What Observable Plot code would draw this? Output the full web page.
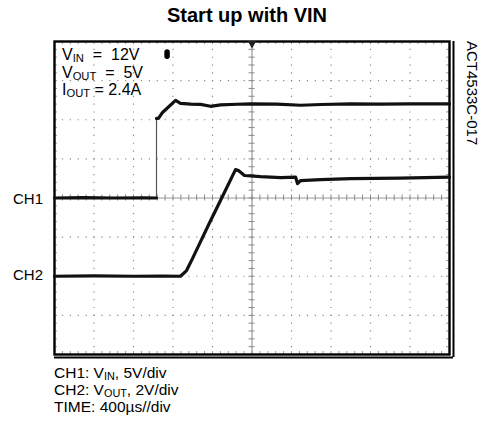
<!DOCTYPE html>
<html>
<head>
<meta charset="utf-8">
<script src="https://cdn.jsdelivr.net/npm/d3@7"></script>
<script src="https://cdn.jsdelivr.net/npm/@observablehq/plot@0.6"></script>
<style>
  html, body { margin: 0; padding: 0; background: #fff; }
  #wrap { position: relative; width: 482px; height: 423px; font-family: Arial, "Liberation Sans", sans-serif; color: #000; }
  #wrap svg { position: absolute; left: 0; top: 0; }
  .t { position: absolute; white-space: pre; line-height: 1; }
  sub { font-size: 0.7em; vertical-align: -0.14em; line-height: 0; }
</style>
</head>
<body>
<div id="wrap"></div>
<script>
// ---- data ----
// time axis: 400 µs/div, 10 divisions (0..4000 µs)
const timeDivisions = [0, 400, 800, 1200, 1600, 2000, 2400, 2800, 3200, 3600, 4000];
// vertical axis: 8 divisions, CH1 ground at 0 div, CH2 ground at -2 div
const voltDivisions = [-4, -3, -2, -1, 0, 1, 2, 3, 4];
const ch1Scale = 5;   // V/div
const ch2Scale = 2;   // V/div
const ch1Ground = 0;  // div
const ch2Ground = -2; // div

// CH1: VIN (V) vs time (µs)
const ch1Time = [0, 300, 600, 900, 1033, 1033, 1053, 1094, 1226, 1276, 1380, 1479, 1580, 1682, 1850, 1985, 2250, 2492, 2700, 2998, 3300, 3600, 4000];
const ch1Volt = [0, 0.05, 0, 0.03, 0, 10.17, 10.17, 10.93, 12.47, 12.09, 12.0, 11.96, 11.72, 11.89, 11.98, 12.02, 12.0, 11.85, 11.95, 12.02, 12.0, 12.02, 12.02];

// CH2: VOUT (V) vs time (µs)
const ch2Time = [0, 400, 800, 1100, 1276, 1337, 1397, 1479, 1580, 1681, 1833, 1863, 1924, 2086, 2289, 2441, 2461, 2491, 2694, 2998, 3504, 4000];
const ch2Volt = [0, 0.02, 0, 0.01, 0, 0.29, 0.90, 1.77, 2.84, 3.87, 5.45, 5.40, 5.15, 5.09, 5.04, 5.07, 4.74, 4.89, 4.94, 4.99, 5.02, 5.07];

const triggerTime = 1140; // trigger position marker (µs)

// ---- build tables ----
function rows(times, volts, scale, ground) {
  let seg = 0;
  return times.map((t, i) => {
    if (i > 0 && times[i - 1] === t) seg++;
    return {t, v: volts[i], y: volts[i] / scale + ground, seg};
  });
}
const ch1 = rows(ch1Time, ch1Volt, ch1Scale, ch1Ground);
const ch2 = rows(ch2Time, ch2Volt, ch2Scale, ch2Ground);
const jumps = [];
for (let i = 1; i < ch1.length; i++) if (ch1[i].t === ch1[i - 1].t) jumps.push({t: ch1[i].t, y1: ch1[i - 1].y, y2: ch1[i].y});

const xMinor = d3.range(timeDivisions[0], timeDivisions[timeDivisions.length - 1] + 1, 80);
const yMinor = d3.range(-4, 4.001, 0.2).map(d => Math.round(d * 10) / 10);
const innerX = timeDivisions.filter(d => d !== 0 && d !== 2000 && d !== 4000);
const innerY = voltDivisions.filter(d => d !== -4 && d !== 0 && d !== 4);
const hx = 30;     // half tick length in µs (≈3 px)
const hy = 0.077;  // half tick length in div (≈3 px)

const plot = Plot.plot({
  width: 482,
  height: 423,
  marginTop: 41,
  marginLeft: 54,
  marginRight: 33,
  marginBottom: 69,
  x: {domain: [0, 4000], axis: null},
  y: {domain: [-4, 4], axis: null},
  style: {background: "transparent"},
  marks: [
    // dotted division grid
    Plot.ruleX(innerX, {stroke: "#8a8a8a", strokeWidth: 1.2, strokeDasharray: "1.2 6.62"}),
    Plot.ruleY(innerY, {stroke: "#8a8a8a", strokeWidth: 1.2, strokeDasharray: "1.2 6.7"}),
    // centre cross lines
    Plot.ruleX([2000], {stroke: "#999", strokeWidth: 1.2}),
    Plot.ruleY([0], {stroke: "#999", strokeWidth: 1.2}),
    // minor ticks on centre lines
    Plot.ruleY(yMinor, {x1: 2000 - hx, x2: 2000 + hx, stroke: "#888"}),
    Plot.ruleX(xMinor, {y1: -hy, y2: hy, stroke: "#888"}),
    // minor ticks on frame edges
    Plot.ruleY(yMinor, {x1: 0, x2: hx, stroke: "#999"}),
    Plot.ruleY(yMinor, {x1: 4000 - hx, x2: 4000, stroke: "#999"}),
    Plot.ruleX(xMinor, {y1: 4 - hy, y2: 4, stroke: "#999"}),
    Plot.ruleX(xMinor, {y1: -4, y2: -4 + hy, stroke: "#999"}),
    // frame + shadow edges
    Plot.frame({stroke: "#000", strokeWidth: 2.4}),
    Plot.ruleX([4000], {stroke: "#000", strokeWidth: 2, dx: 4, y1: 4, y2: -4, insetBottom: -3}),
    Plot.ruleY([-4], {stroke: "#000", strokeWidth: 2, dy: 3, x1: 0, x2: 4000, insetRight: -4}),
    // centre & trigger markers
    Plot.dot([2000], {x: d => d, frameAnchor: "top", symbol: "triangle", rotate: 180, r: 3.2, fill: "#222", stroke: "none", dy: 2}),
    Plot.ruleX([triggerTime], {y1: 3.72, y2: 3.61, stroke: "#000", strokeWidth: 5.5, strokeLinecap: "round"}),
    // waveforms
    Plot.link(jumps, {x1: "t", x2: "t", y1: "y1", y2: "y2", stroke: "#555", strokeWidth: 1.2}),
    Plot.line(ch1, {x: "t", y: "y", z: "seg", stroke: "#111", strokeWidth: 3.2, strokeLinejoin: "round"}),
    Plot.line(ch2, {x: "t", y: "y", stroke: "#111", strokeWidth: 3.2, strokeLinejoin: "round"})
  ]
});

const wrap = document.getElementById("wrap");
wrap.appendChild(plot);

function addText(html, css) {
  const d = document.createElement("div");
  d.className = "t";
  d.innerHTML = html;
  Object.assign(d.style, css);
  wrap.appendChild(d);
  return d;
}
// title
addText("Start up with VIN", {left: "0px", width: "494px", textAlign: "center", top: "5px", fontSize: "20px", fontWeight: "bold"});
// in-plot annotation
addText("V<sub>IN</sub>  =  12V", {left: "62px", top: "46.5px", fontSize: "16px"});
addText("V<sub>OUT</sub>  =  5V", {left: "62px", top: "64.5px", fontSize: "16px"});
addText("I<sub>OUT</sub> = 2.4A", {left: "62px", top: "82px", fontSize: "16px"});
// channel labels
addText("CH1", {left: "13px", top: "190.5px", fontSize: "15px"});
addText("CH2", {left: "13px", top: "267px", fontSize: "15px"});
// caption
addText("CH1: V<sub>IN</sub>, 5V/div", {left: "54px", top: "365px", fontSize: "15.5px"});
addText("CH2: V<sub>OUT</sub>, 2V/div", {left: "54px", top: "382px", fontSize: "15.5px"});
addText("TIME: 400µs//div", {left: "54px", top: "399px", fontSize: "15.5px"});
// rotated figure id
addText("ACT4533C-017", {left: "479.7px", top: "41px", fontSize: "15px", transformOrigin: "0 0", transform: "rotate(90deg)"});
</script>
</body>
</html>
